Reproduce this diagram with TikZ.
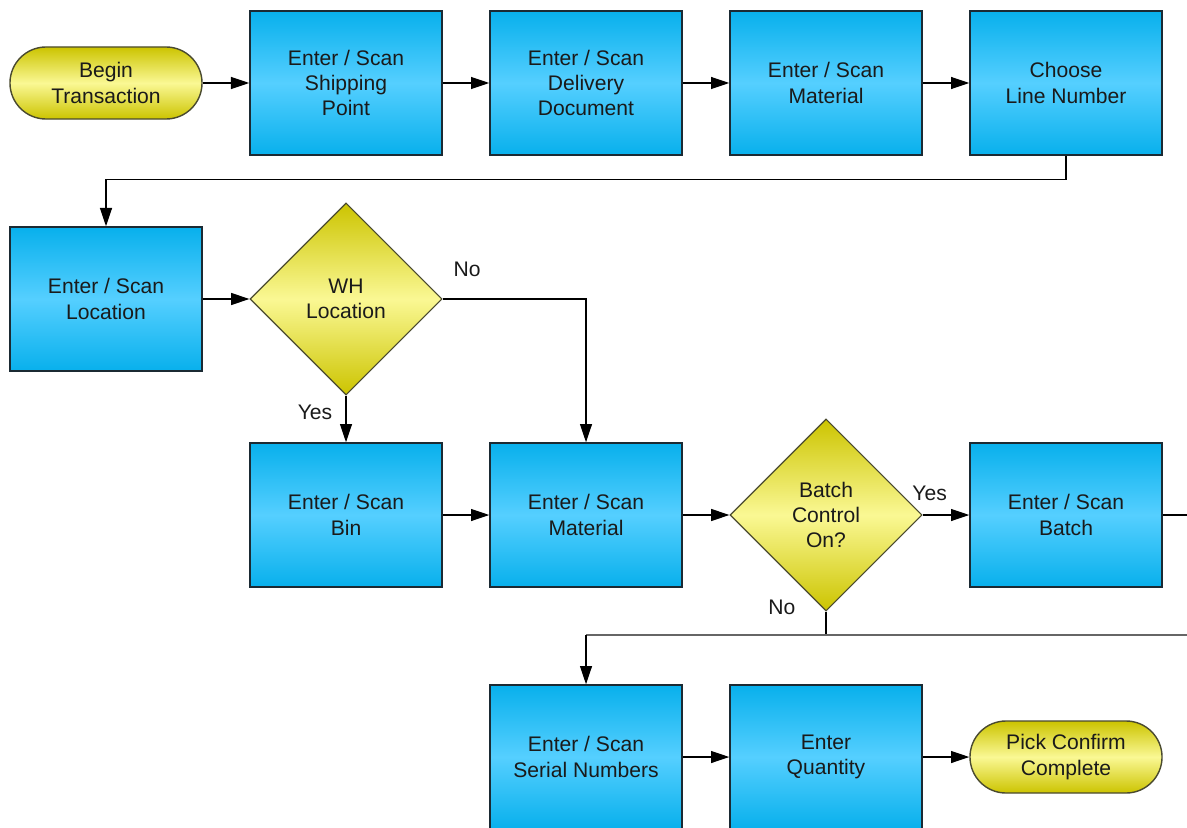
\documentclass[tikz,border=0pt]{standalone}
\usepackage{fontspec}
\setmainfont{Liberation Sans}
\usetikzlibrary{shapes.geometric,arrows.meta,shadows}

\definecolor{boxtop}{HTML}{08B0EC}
\definecolor{boxmid}{HTML}{55CFFF}
\definecolor{boxline}{HTML}{1B2A33}
\definecolor{decitop}{HTML}{CCC400}
\definecolor{decimid}{HTML}{FAF894}
\definecolor{deciline}{HTML}{4A4A30}
\definecolor{txt}{HTML}{1A1A1A}

\tikzset{
    stepbox/.style={rectangle, draw=boxline, line width=1pt,
        top color=boxtop, bottom color=boxtop, middle color=boxmid,
        minimum width=4.8cm, minimum height=3.6cm, align=center,
        drop shadow={shadow xshift=0.6pt, shadow yshift=-0.6pt, opacity=0.35}},
    decision/.style={diamond, aspect=1, draw=deciline, line width=0.8pt,
        top color=decitop, bottom color=decitop, middle color=decimid,
        minimum width=4.8cm, minimum height=4.8cm, inner sep=0pt, align=center},
    terminal/.style={rectangle, rounded corners=0.9cm, draw=deciline, line width=1pt,
        top color=decitop, bottom color=decitop, middle color=decimid,
        minimum width=4.8cm, minimum height=1.8cm, align=center},
    arr/.style={line width=1pt, -{Triangle[length=13pt,width=8.5pt]}},
    flow/.style={line width=1pt}
}

\begin{document}
\begin{tikzpicture}[x=0.025cm, y=-0.025cm, font=\fontsize{15}{18}\selectfont, text=txt]

            \useasboundingbox (0,0) rectangle (1187,827);
            \clip (0,0) rectangle (1187,827);

            \node[terminal] (begin) at (106,83) {Begin\\Transaction};
            \node[stepbox] (ship) at (346,83) {Enter / Scan\\Shipping\\Point};
            \node[stepbox] (deliv) at (586,83) {Enter / Scan\\Delivery\\Document};
            \node[stepbox] (mat) at (826,83) {Enter / Scan\\Material};
            \node[stepbox] (line) at (1066,83) {Choose\\Line Number};

            \node[stepbox] (loc) at (106,299) {Enter / Scan\\Location};
            \node[decision] (wh) at (346,299) {WH\\Location};

            \node[stepbox] (bin) at (346,515) {Enter / Scan\\Bin};
            \node[stepbox] (matb) at (586,515) {Enter / Scan\\Material};
            \node[decision] (batchq) at (826,515) {Batch\\Control\\On?};
            \node[stepbox] (batch) at (1066,515) {Enter / Scan\\Batch};

            \node[stepbox] (serial) at (586,757) {Enter / Scan\\Serial Numbers};
            \node[stepbox] (qty) at (826,757) {Enter\\Quantity};
            \node[terminal] (done) at (1066,757) {Pick Confirm\\Complete};

            \coordinate (batchout) at (1187,515);
            \coordinate (noline) at (1187,635);

            \draw[arr] (begin) -- (ship);
            \draw[arr] (ship) -- (deliv);
            \draw[arr] (deliv) -- (mat);
            \draw[arr] (mat) -- (line);
            \draw[arr] (line.south) -- ++(0,24) -| (loc.north);

            \draw[arr] (loc) -- (wh);
            \draw[arr] (wh.east) -| (matb.north) node[pos=0.02, anchor=south west, yshift=12pt] (whno) {No};
            \draw[arr] (wh.south) -- (bin.north) node[pos=0.35, anchor=east, xshift=-6pt] (whyes) {Yes};

            \draw[arr] (bin) -- (matb);
            \draw[arr] (matb) -- (batchq);
            \draw[arr] (batchq) -- (batch) node[pos=0.15, anchor=south, yshift=6pt] (bqyes) {Yes};
            \draw[flow] (batch.east) -- (batchout);

            \draw[flow] (batchq.south) -- (batchq.south |- noline) node[pos=-0.2, anchor=east, xshift=-18pt] (bqno) {No};
            \draw[flow, draw=black!60, line width=1.4pt] (noline) -- (noline -| serial.north);
            \draw[arr] (noline -| serial.north) -- (serial.north);

            \draw[arr] (serial) -- (qty);
            \draw[arr] (qty) -- (done);

        \end{tikzpicture}
\end{document}
